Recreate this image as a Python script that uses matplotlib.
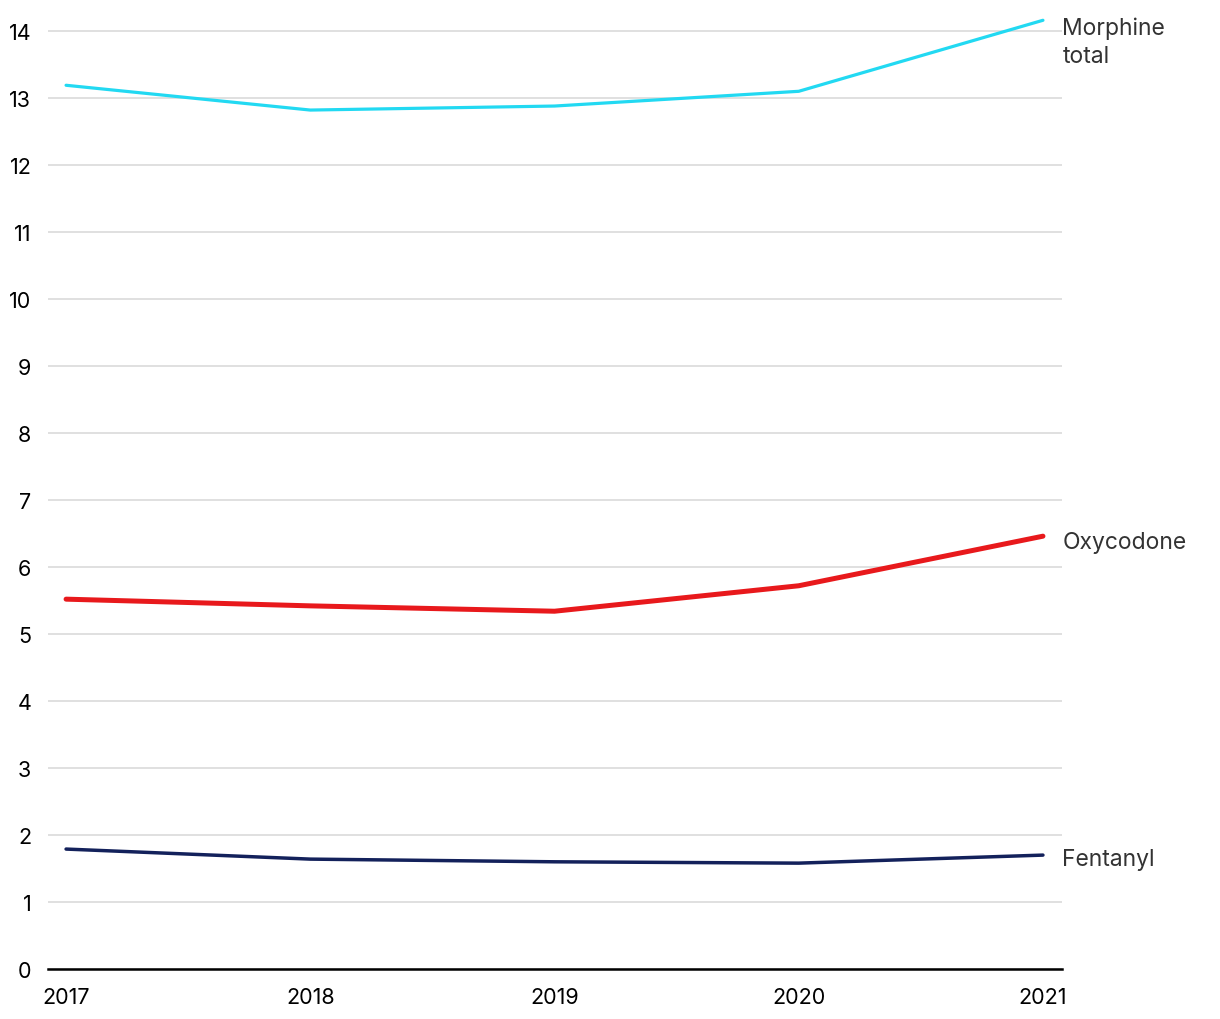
import matplotlib.pyplot as plt

plt.rcParams['font.family'] = ['Inter', 'DejaVu Sans']

# Datos
years = [2017, 2018, 2019, 2020, 2021]
morphine = [13.19, 12.82, 12.88, 13.10, 14.16]
oxycodone = [5.52, 5.42, 5.34, 5.72, 6.46]
fentanyl = [1.79, 1.64, 1.60, 1.58, 1.70]

labels = ["Morphine\ntotal", "Oxycodone", "Fentanyl"]
colors = ["#22d9f2", "#e8191c", "#13215b"]
widths = [2.3, 3.6, 2.5]

fig = plt.figure(figsize=(12.2, 10.2), dpi=100)
# eje y: 0 en el píxel 970, 67 px por unidad
ax = fig.add_axes([48 / 1220, 50 / 1020, (1062 - 48) / 1220, 14.2 * 67 / 1020])

series = [morphine, oxycodone, fentanyl]
for vals, lab, col, lw in zip(series, labels, colors, widths):
    ax.plot(years, vals, color=col, lw=lw, solid_capstyle='round', clip_on=False, zorder=3)

# Etiquetas al final de cada línea
ax.annotate(labels[0], (years[-1], morphine[-1]), xytext=(14, 3), textcoords='offset points',
            va='top', ha='left', fontsize=16.5, color='#333333', linespacing=1.35,
            annotation_clip=False)
ax.annotate(labels[1], (years[-1], oxycodone[-1]), xytext=(14, -4), textcoords='offset points',
            va='center', ha='left', fontsize=16.5, color='#333333', annotation_clip=False)
ax.annotate(labels[2], (years[-1], fentanyl[-1]), xytext=(14, -3), textcoords='offset points',
            va='center', ha='left', fontsize=16.5, color='#333333', annotation_clip=False)

ax.set_xlim(2016.926, 2021.078)
ax.set_ylim(0, 14.2)
ax.set_yticks(range(0, 15))
ax.set_xticks(years)
ax.grid(axis='y', color='#dddddd', lw=1.3)
ax.set_axisbelow(True)

for side in ['top', 'right', 'left']:
    ax.spines[side].set_visible(False)
ax.spines['bottom'].set_color('black')
ax.spines['bottom'].set_linewidth(1.8)
ax.spines['bottom'].set_zorder(4)

ax.tick_params(axis='both', length=0, labelsize=15.5, colors='black')
ax.tick_params(axis='y', pad=12)
ax.tick_params(axis='x', pad=13)

fig.savefig('out.png', dpi=100)
